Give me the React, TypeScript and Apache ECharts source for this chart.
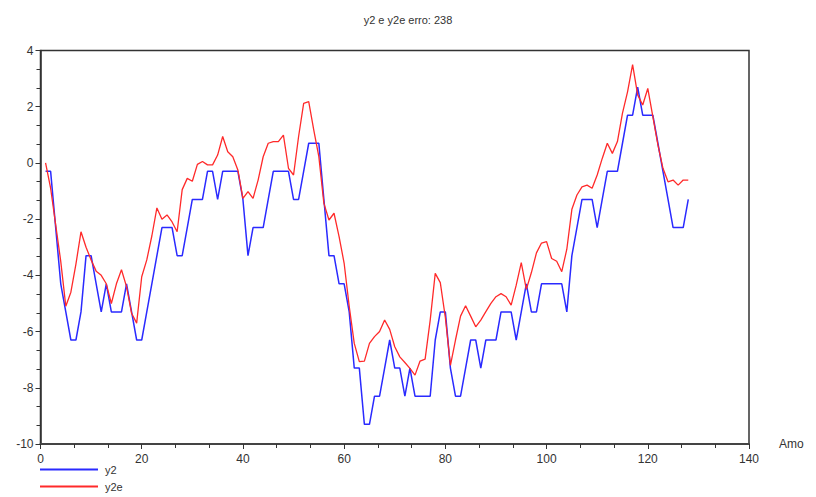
import React, { useEffect, useRef } from "react";
import * as echarts from "echarts";

const titleText = "y2 e y2e erro: 238";
const seriesNames = ["y2", "y2e"];
const xAxisName = "Amo";

const y2: number[] = [
  -0.3, -0.3, -2.3, -4.3, -5.3, -6.3, -6.3, -5.3, -3.3, -3.3,
  -4.3, -5.3, -4.3, -5.3, -5.3, -5.3, -4.3, -5.3, -6.3, -6.3,
  -5.3, -4.3, -3.3, -2.3, -2.3, -2.3, -3.3, -3.3, -2.3, -1.3,
  -1.3, -1.3, -0.3, -0.3, -1.3, -0.3, -0.3, -0.3, -0.3, -1.3,
  -3.3, -2.3, -2.3, -2.3, -1.3, -0.3, -0.3, -0.3, -0.3, -1.3,
  -1.3, -0.3, 0.7, 0.7, 0.7, -1.3, -3.3, -3.3, -4.3, -4.3,
  -5.3, -7.3, -7.3, -9.3, -9.3, -8.3, -8.3, -7.3, -6.3, -7.3,
  -7.3, -8.3, -7.3, -8.3, -8.3, -8.3, -8.3, -6.3, -5.3, -5.3,
  -7.3, -8.3, -8.3, -7.3, -6.3, -6.3, -7.3, -6.3, -6.3, -6.3,
  -5.3, -5.3, -5.3, -6.3, -5.3, -4.3, -5.3, -5.3, -4.3, -4.3,
  -4.3, -4.3, -4.3, -5.3, -3.3, -2.3, -1.3, -1.3, -1.3, -2.3,
  -1.3, -0.3, -0.3, -0.3, 0.7, 1.7, 1.7, 2.7, 1.7, 1.7,
  1.7, 0.7, -0.3, -1.3, -2.3, -2.3, -2.3, -1.3,
];

const y2e: number[] = [
  0.0, -0.9, -2.2, -3.5, -5.1, -4.6, -3.6, -2.45, -3.0, -3.45,
  -3.85, -4.0, -4.3, -5.0, -4.3, -3.8, -4.4, -5.35, -5.7, -4.05,
  -3.45, -2.6, -1.6, -2.0, -1.85, -2.1, -2.45, -0.95, -0.55, -0.65,
  -0.05, 0.05, -0.07, -0.07, 0.28, 0.94, 0.4, 0.22, -0.25, -1.26,
  -1.02, -1.26, -0.61, 0.22, 0.7, 0.76, 0.76, 0.99, -0.19, -0.43,
  0.94, 2.12, 2.18, 1.17, 0.22, -1.44, -2.03, -1.79, -2.62, -3.57,
  -5.1, -6.42, -7.07, -7.05, -6.42, -6.18, -6.0, -5.59, -5.92, -6.54,
  -6.9, -7.1, -7.31, -7.55, -7.05, -6.98, -5.6, -3.93, -4.26, -5.5,
  -7.2, -6.3, -5.45, -5.08, -5.45, -5.83, -5.59, -5.29, -5.0, -4.76,
  -4.65, -4.76, -5.06, -4.35, -3.55, -4.5, -3.9, -3.2, -2.85, -2.8,
  -3.4, -3.5, -3.87, -3.07, -1.65, -1.14, -0.85, -0.79, -0.9, -0.43,
  0.16, 0.7, 0.34, 0.76, 1.77, 2.53, 3.5, 2.42, 2.06, 2.65,
  1.65, 0.64, -0.19, -0.67, -0.61, -0.79, -0.61, -0.61,
];

const FONT = "'Liberation Sans', Arial, sans-serif";

export default function App() {
  const ref = useRef<HTMLDivElement>(null);
  useEffect(() => {
    if (!ref.current) return;
    const chart = echarts.init(ref.current, null, { renderer: "svg" });
    const toPairs = (arr: number[]) => arr.map((v, i) => [i + 1, v]);
    chart.setOption({
      animation: false,
      backgroundColor: "#ffffff",
      textStyle: { fontFamily: FONT },
      title: {
        text: titleText,
        left: "center",
        top: 9,
        textStyle: { fontSize: 11, fontWeight: "normal", color: "#333", fontFamily: FONT },
      },
      legend: {
        data: seriesNames,
        orient: "vertical",
        left: 35,
        top: 458,
        padding: [5, 5, 0, 5],
        height: 60,
        icon: "rect",
        itemWidth: 58,
        itemHeight: 2,
        itemGap: 4,
        textStyle: {
          fontSize: 11,
          lineHeight: 13,
          color: "#333",
          fontFamily: FONT,
          padding: [0, 0, 0, 2],
        },
      },
      grid: {
        left: 40.5,
        right: 67,
        top: 50.5,
        bottom: 53,
        show: true,
        borderColor: "#333",
        borderWidth: 1.5,
        backgroundColor: "transparent",
      },
      xAxis: {
        type: "value",
        min: 0,
        max: 140,
        interval: 20,
        name: xAxisName,
        nameLocation: "end",
        nameGap: 30,
        nameTextStyle: { fontSize: 12, color: "#333", fontFamily: FONT },
        axisLine: { show: true, onZero: false, lineStyle: { color: "#444", width: 2 } },
        axisTick: { show: true, length: 5, lineStyle: { color: "#333" } },
        minorTick: { show: true, splitNumber: 3, length: 4, lineStyle: { color: "#333" } },
        splitLine: { show: false },
        axisLabel: { fontSize: 12, color: "#333", margin: 9, fontFamily: FONT },
      },
      yAxis: {
        type: "value",
        min: -10,
        max: 4,
        interval: 2,
        axisLine: { show: true, onZero: false, lineStyle: { color: "#333", width: 1.5 } },
        axisTick: { show: true, length: 5, lineStyle: { color: "#333" } },
        minorTick: { show: true, splitNumber: 3, length: 4, lineStyle: { color: "#333" } },
        splitLine: { show: false },
        axisLabel: { fontSize: 12, color: "#333", margin: 7, fontFamily: FONT },
      },
      series: [
        {
          name: seriesNames[0],
          type: "line",
          data: toPairs(y2),
          showSymbol: false,
          symbol: "none",
          color: "#2a2aff",
          lineStyle: { color: "#2a2aff", width: 1.5 },
        },
        {
          name: seriesNames[1],
          type: "line",
          data: toPairs(y2e),
          showSymbol: false,
          symbol: "none",
          color: "#ff2a2a",
          lineStyle: { color: "#ff2a2a", width: 1.3 },
        },
      ],
    });
    return () => chart.dispose();
  }, []);
  return (
    <div
      ref={ref}
      style={{ position: "fixed", left: 0, top: 0, width: 816, height: 497, background: "#fff" }}
    />
  );
}
